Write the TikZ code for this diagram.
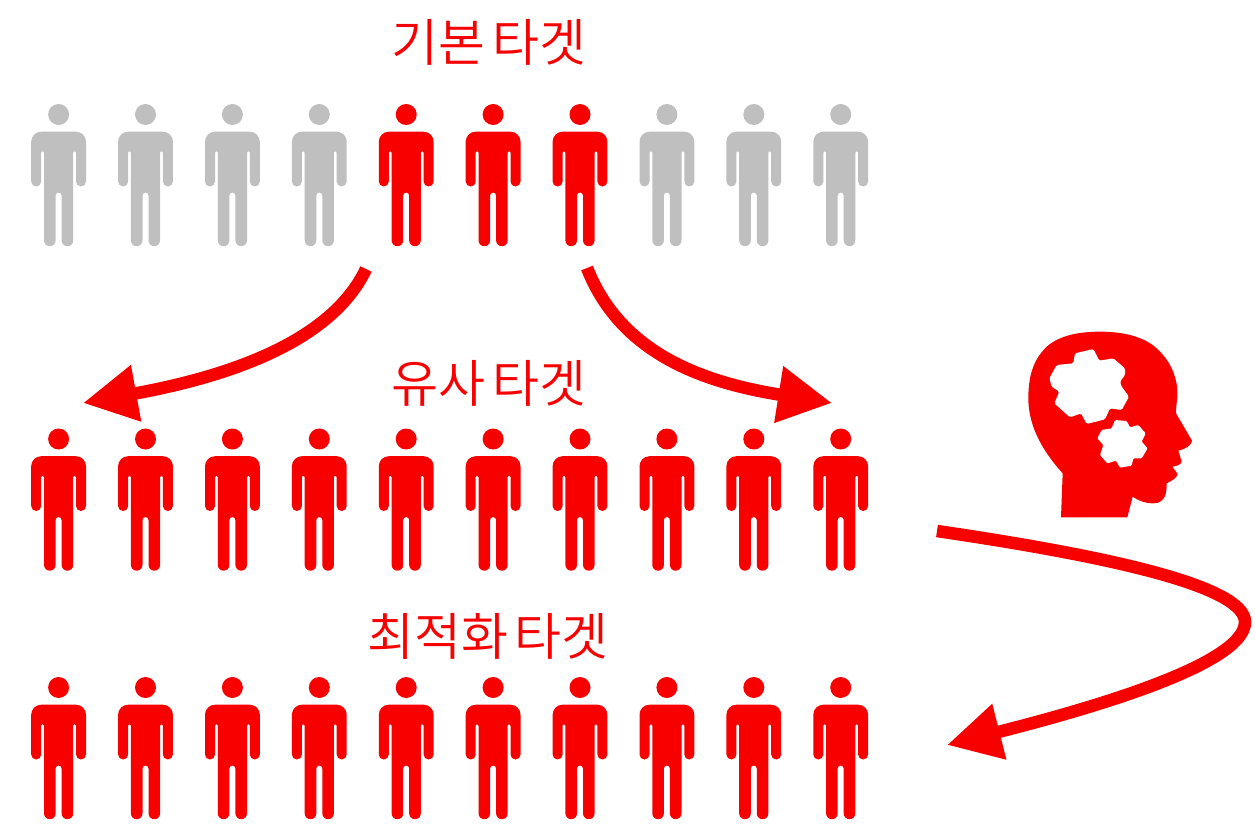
\documentclass[tikz,border=0pt]{standalone}
\usepackage{fontspec}
\newfontfamily\kor[WordSpace=0.6]{Noto Sans CJK KR DemiLight}
\usetikzlibrary{arrows.meta}
\definecolor{tred}{HTML}{F80000}
\definecolor{tgray}{HTML}{BFBFBF}
\tikzset{
  person/.pic={
    \fill (0,0) circle (10.5);
    \fill (-17.4,17.2)--(17.4,17.2) arc (-90:0:10)--(27.4,67) arc (0:180:5)
      --(17.4,38) arc (0:-180:1.4)--(14.6,125.9) arc (0:180:5.8)
      --(3,81) arc (0:-180:3)--(-3,125.9) arc (0:180:5.8)
      --(-14.6,38) arc (0:-180:1.4)--(-17.4,67) arc (0:180:5)
      --(-27.4,27.2) arc (180:270:10)--cycle;
  },
  title/.style={text=tred,font=\kor\fontsize{51}{60}\selectfont,inner sep=0pt},
  bigarrow/.style={draw=tred,line width=#1,-{Triangle[length=54pt,width=54pt,fill=tred]}}
}
\begin{document}
\begin{tikzpicture}[x=1pt,y=-1pt]
    \useasboundingbox (0,0) rectangle (1255,827);
    % top row
    \foreach \i in {0,...,9} {
      \pgfmathsetmacro{\px}{58.6 + 86.9*\i}
      \ifnum\i>3 \ifnum\i<7 \def\pcol{tred}\else\def\pcol{tgray}\fi\else\def\pcol{tgray}\fi
      \pic[color=\pcol] (basic\i) at (\px,114.5) {person};
      \pic[color=tred] (similar\i) at (\px,439) {person};
      \pic[color=tred] (optimal\i) at (\px,687.5) {person};
    }
    \node[title] (basic) at (489,42) {기본 타겟};
    \node[title] (similar) at (489,383) {유사 타겟};
    \node[title] (optimal) at (488,636.5) {최적화 타겟};
    % arrows
    \coordinate (leftstart) at (366,269);
    \coordinate (lefttip) at (83,403);
    \coordinate (rightstart) at (587,268);
    \coordinate (righttip) at (832,403);
    \coordinate (turnstart) at (937,531);
    \coordinate (turnmid) at (1245,622);
    \coordinate (turntip) at (947,745);
    \draw[bigarrow=12.5pt] (leftstart) .. controls (330,345) and (220,378) .. (lefttip);
    \draw[bigarrow=12.5pt] (rightstart) .. controls (620,352) and (700,382) .. (righttip);
    \draw[bigarrow=12.5pt] (turnstart) .. controls (1100,555) and (1245,585) .. (turnmid)
      .. controls (1245,665) and (1085,710) .. (turntip);
    % head
    \begin{scope}[shift={(1010,320)},scale=1/3]
      \fill[tred] (153,592)--(158,460) .. controls (90,385) and (55,310) .. (55,235)
        .. controls (55,150) and (80,110) .. (110,80)
        .. controls (150,45) and (210,35) .. (270,35)
        .. controls (340,35) and (410,50) .. (450,95)
        .. controls (490,135) and (505,190) .. (502,230)
        .. controls (500,250) and (498,265) .. (498,280)
        --(546,362) .. controls (546,375) and (525,388) .. (505,392)
        --(515,425) .. controls (512,435) and (500,438) .. (487,440)
        --(503,462) .. controls (500,475) and (485,482) .. (470,490)
        .. controls (470,510) and (470,550) .. (430,550)
        .. controls (405,550) and (385,542) .. (368,530)--(352,592)--cycle;
      \fill[white,rounded corners=1.5pt] (190,130)--(195,100)--(250,87)--(268,122)--(310,115)
        --(345,145)--(345,165)--(330,185)--(335,200)--(357,230)--(335,270)--(300,265)
        --(285,298)--(230,312)--(213,280)--(180,292)--(133,250)--(148,215)--(125,200)
        --(118,175)--(140,135)--cycle;
      \fill[white,rounded corners=1pt] (305,325)--(315,300)--(350,303)--(360,322)--(385,315)
        --(407,340)--(395,365)--(413,385)--(395,415)--(370,415)--(365,437)--(330,443)
        --(318,422)--(292,430)--(270,405)--(280,375)--(262,355)--(275,330)--cycle;
    \end{scope}
\end{tikzpicture}
\end{document}
